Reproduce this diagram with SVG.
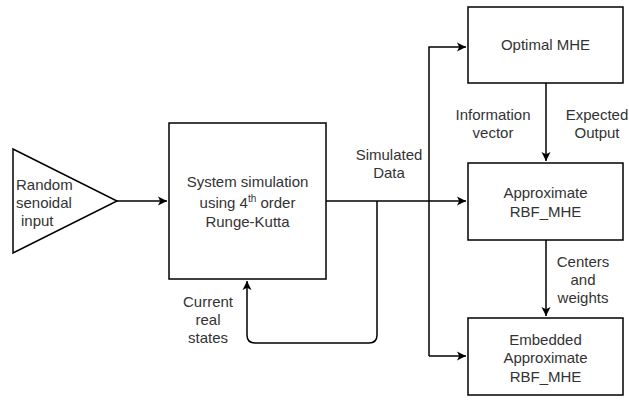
<svg xmlns="http://www.w3.org/2000/svg" width="629" height="401" viewBox="0 0 629 401">
<defs>
<marker id="ah" markerWidth="10" markerHeight="10" refX="9" refY="5" orient="auto" markerUnits="userSpaceOnUse">
<path d="M0,0.5 L9,5 L0,9.5 L2.2,5 Z" fill="#000"/>
</marker>
<style>
.box{fill:#fff;stroke:#000;stroke-width:1.5}
.ln{fill:none;stroke:#000;stroke-width:1.5}
text{font-family:"Liberation Sans",Arial,sans-serif;font-size:15px;fill:#333}
.c{text-anchor:middle}
</style>
</defs>
<rect width="629" height="401" fill="#fff"/>
<g id="connectors">
<path class="ln" d="M117,201 H167" marker-end="url(#ah)"/>
<path class="ln" d="M326,201 H466" marker-end="url(#ah)"/>
<path class="ln" d="M429,356 V47 H466" marker-end="url(#ah)"/>
<path class="ln" d="M429,356 H466" marker-end="url(#ah)"/>
<path class="ln" d="M377,201 V335 Q377,343 369,343 H255 Q247,343 247,335 V281" marker-end="url(#ah)"/>
<path class="ln" d="M546,83 V161" marker-end="url(#ah)"/>
<path class="ln" d="M546,240 V316" marker-end="url(#ah)"/>
</g>
<g id="input">
<path class="box" d="M13,149 L117,201 L13,253 Z"/>
<text x="16" y="190">Random</text>
<text x="16" y="208">senoidal</text>
<text x="21" y="226">input</text>
</g>
<g id="system">
<rect class="box" x="169" y="123" width="157" height="156"/>
<text class="c" x="247.5" y="187">System simulation</text>
<text class="c" x="247.5" y="208">using 4<tspan font-size="10" dy="-6">th</tspan><tspan dy="6"> order</tspan></text>
<text class="c" x="247.5" y="227">Runge-Kutta</text>
</g>
<g id="optimal">
<rect class="box" x="468" y="7" width="155" height="76"/>
<text class="c" x="545.5" y="50">Optimal MHE</text>
</g>
<g id="approx">
<rect class="box" x="468" y="163" width="155" height="77"/>
<text class="c" x="545.5" y="198">Approximate</text>
<text class="c" x="545.5" y="217">RBF_MHE</text>
</g>
<g id="embedded">
<rect class="box" x="468" y="318" width="155" height="77"/>
<text class="c" x="545.5" y="345">Embedded</text>
<text class="c" x="545.5" y="363">Approximate</text>
<text class="c" x="545.5" y="382">RBF_MHE</text>
</g>
<g id="labels">
<text class="c" x="389" y="160">Simulated</text>
<text class="c" x="389" y="178">Data</text>
<text class="c" x="493" y="120">Information</text>
<text class="c" x="493" y="138">vector</text>
<text class="c" x="597" y="120">Expected</text>
<text class="c" x="597" y="138">Output</text>
<text class="c" x="583" y="267">Centers</text>
<text class="c" x="583" y="285">and</text>
<text class="c" x="583" y="303">weights</text>
<text class="c" x="208" y="307">Current</text>
<text class="c" x="208" y="325">real</text>
<text class="c" x="208" y="343">states</text>
</g>
</svg>
